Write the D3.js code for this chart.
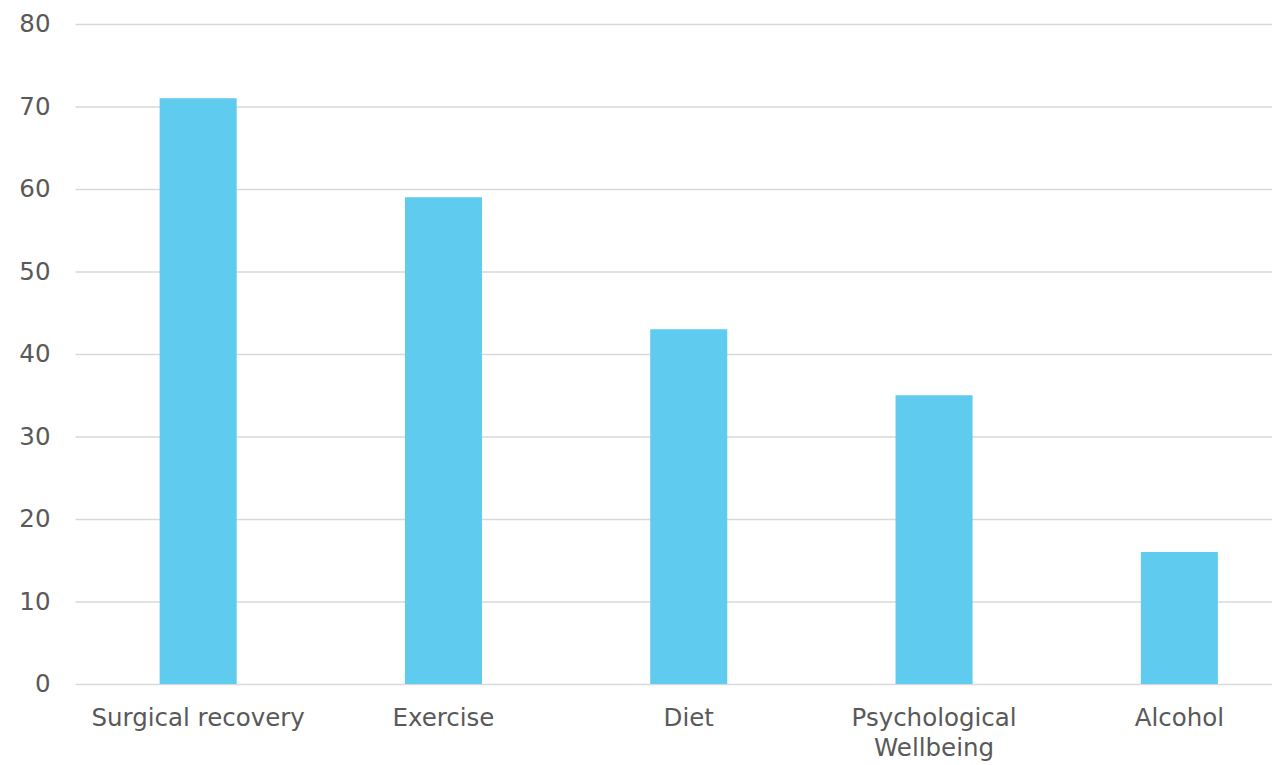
<!DOCTYPE html>
<html>
<head>
<meta charset="utf-8">
<script src="https://cdn.jsdelivr.net/npm/d3@7"></script>
<style>
  html, body { margin: 0; padding: 0; background: #ffffff; }
  svg { display: block; }
  text { font-family: "DejaVu Sans", sans-serif; fill: #595959; }
</style>
</head>
<body>
<svg id="chart" width="1272" height="765"></svg>
<script>
// Topics and their counts
const categories = ["Surgical recovery", "Exercise", "Diet", "Psychological Wellbeing", "Alcohol"];
const values = [71, 59, 43, 35, 16];
const yTicks = [0, 10, 20, 30, 40, 50, 60, 70, 80];

const svg = d3.select("#chart");

const plotLeft = 75.5, plotRight = 1302, plotTop = 24, plotBottom = 684;
const fontSize = 24.5;

const x = d3.scaleBand()
  .domain(categories)
  .range([plotLeft, plotRight])
  .paddingInner(0.686)
  .paddingOuter(0.343);

const y = d3.scaleLinear()
  .domain([0, 80])
  .range([plotBottom, plotTop]);

// Horizontal gridlines with tick labels on the left
const yAxis = d3.axisLeft(y)
  .tickValues(yTicks)
  .tickSize(-(plotRight - plotLeft))
  .tickPadding(25)
  .tickFormat(d3.format("d"));

const gy = svg.append("g")
  .attr("transform", `translate(${plotLeft},0)`)
  .call(yAxis);
gy.select(".domain").remove();
gy.selectAll(".tick line").attr("stroke", "#d9d9d9").attr("stroke-width", 1.4);
gy.selectAll(".tick text")
  .attr("font-size", fontSize)
  .attr("font-family", "DejaVu Sans, sans-serif")
  .attr("fill", "#595959");

// Bars
svg.append("g")
  .selectAll("rect")
  .data(categories)
  .join("rect")
  .attr("x", d => x(d))
  .attr("width", x.bandwidth())
  .attr("y", (d, i) => y(values[i]))
  .attr("height", (d, i) => y(0) - y(values[i]))
  .attr("fill", "#5ecbef");

// Category labels, wrapped only when wider than their slot
const xAxis = d3.axisBottom(x).tickSize(0).tickPadding(0);
const gx = svg.append("g")
  .attr("transform", `translate(0,${plotBottom})`)
  .call(xAxis);
gx.select(".domain").remove();
gx.selectAll(".tick text").remove();

const slot = x.step();
gx.selectAll(".tick").each(function(d) {
  const t = d3.select(this).append("text")
    .attr("text-anchor", "middle")
    .attr("font-size", fontSize)
    .attr("font-family", "DejaVu Sans, sans-serif")
    .attr("fill", "#595959");
  const words = d.split(" ");
  let line = [];
  let lineNo = 0;
  let tspan = t.append("tspan").attr("x", 0).attr("y", 42);
  words.forEach(w => {
    line.push(w);
    tspan.text(line.join(" "));
    if (tspan.node().getComputedTextLength() > slot && line.length > 1) {
      line.pop();
      tspan.text(line.join(" "));
      line = [w];
      lineNo += 1;
      tspan = t.append("tspan").attr("x", 0).attr("y", 42 + lineNo * 30).text(w);
    }
  });
});
</script>
</body>
</html>
